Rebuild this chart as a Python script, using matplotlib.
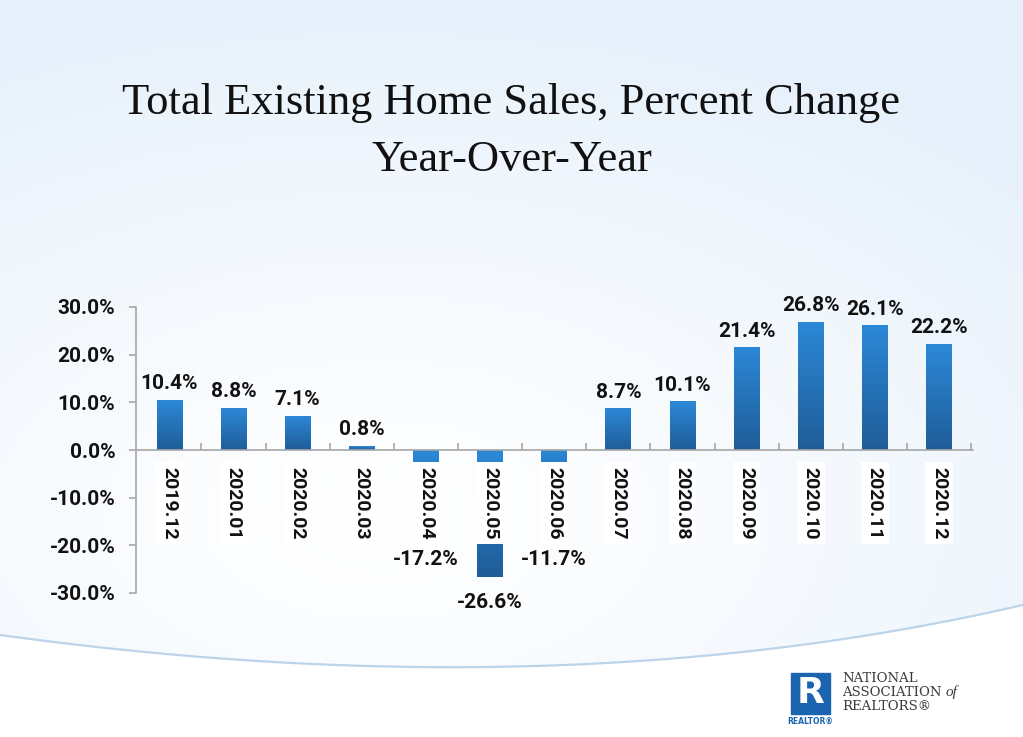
import matplotlib.pyplot as plt
import numpy as np
from matplotlib.colors import LinearSegmentedColormap
from matplotlib.patches import Rectangle

months = ['2019.12', '2020.01', '2020.02', '2020.03', '2020.04', '2020.05', '2020.06',
          '2020.07', '2020.08', '2020.09', '2020.10', '2020.11', '2020.12']
pct_change = [10.4, 8.8, 7.1, 0.8, -17.2, -26.6, -11.7, 8.7, 10.1, 21.4, 26.8, 26.1, 22.2]
y_ticks = [-30, -20, -10, 0, 10, 20, 30]

W, H = 1023, 737
fig = plt.figure(figsize=(W / 100, H / 100), dpi=100)
label_font = 'Roboto'

# slide background: pale blue above a swoosh, white below it
bg = fig.add_axes([0, 0, 1, 1], zorder=-10)
bg.set_xlim(0, W)
bg.set_ylim(H, 0)
bg.axis('off')
xx, yy = np.meshgrid(np.linspace(0, W, 300), np.linspace(0, H, 220))
d = np.sqrt(((xx - 380) / 900) ** 2 + ((yy - 520) / 520) ** 2)
f = np.clip(d, 0, 1) ** 1.2
white = np.array([1.0, 1.0, 1.0])
pale = np.array([0.905, 0.945, 0.985])
bg.imshow(white + (pale - white) * f[..., None], extent=[0, W, H, 0], aspect='auto')
t = np.linspace(0, 1, 200)
p0, p1, p2 = np.array([0, 635]), np.array([560, 712]), np.array([W, 605])
curve = (1 - t)[:, None] ** 2 * p0 + 2 * (t * (1 - t))[:, None] * p1 + t[:, None] ** 2 * p2
bg.fill_between(curve[:, 0], curve[:, 1], H, color='white', lw=0)
bg.plot(curve[:, 0], curve[:, 1], color='#bcd4ea', lw=1.6)

# title
fig.text(0.5, 1 - 103 / H, 'Total Existing Home Sales, Percent Change', ha='center', va='center',
         fontsize=32, family='Liberation Serif', color='#111111')
fig.text(0.5, 1 - 160 / H, 'Year-Over-Year', ha='center', va='center',
         fontsize=32, family='Liberation Serif', color='#111111')

# chart
ax = fig.add_axes([136 / W, 1 - 593 / H, 837 / W, 286 / H])
ax.patch.set_alpha(0)
x = np.arange(len(months))
bars = ax.bar(x, pct_change, width=0.4, color='none', edgecolor='none', zorder=1)

cmap = LinearSegmentedColormap.from_list('bar', ['#2c88d6', '#1f5d99'])
grad = np.linspace(0, 1, 100).reshape(-1, 1)
for b in bars:
    x0, w = b.get_x(), b.get_width()
    y0, y1 = sorted([b.get_y(), b.get_y() + b.get_height()])
    ax.imshow(grad, extent=[x0, x0 + w, y0, y1], origin='upper', cmap=cmap,
              aspect='auto', zorder=1)

ax.set_xlim(-0.52, 12.53)
ax.set_ylim(-30, 30)

for s in ['top', 'right']:
    ax.spines[s].set_visible(False)
ax.spines['bottom'].set_position(('data', 0))
for s in ['left', 'bottom']:
    ax.spines[s].set_color('#a6a6a6')
    ax.spines[s].set_linewidth(1.2)

ax.set_xticks(x, [])
ax.set_xticks(np.arange(0.5, 12.6, 1), minor=True)
ax.tick_params(axis='x', which='major', length=0)
ax.tick_params(axis='x', which='minor', direction='in', length=5, color='#a6a6a6', width=1.2)

# month labels in white boxes hanging under the zero line
for xi, m in zip(x, months):
    ax.annotate(m, (xi, 0), xytext=(0, -12), textcoords='offset points', rotation=-90,
                ha='center', va='top', fontsize=14, fontweight='bold', family=label_font,
                color='#111111', zorder=3,
                bbox=dict(facecolor='white', edgecolor='none', boxstyle='square,pad=0.25'))

ax.set_yticks(y_ticks, [f'{v:.1f}%' for v in y_ticks])
ax.tick_params(axis='y', direction='out', length=5, color='#a6a6a6', width=1.2, pad=10)
for lbl in ax.get_yticklabels():
    lbl.set_fontsize(15)
    lbl.set_fontweight('bold')
    lbl.set_family(label_font)
    lbl.set_color('#111111')

# value labels; negative ones sit below the month boxes
label_floor = -17.5
for xi, v in zip(x, pct_change):
    if v >= 0:
        ax.annotate(f'{v:.1f}%', (xi, v), xytext=(0, 5), textcoords='offset points',
                    ha='center', va='bottom', fontsize=15, fontweight='bold',
                    family=label_font, color='#111111')
    else:
        ax.annotate(f'{v:.1f}%', (xi, min(v, label_floor)), xytext=(0, -12),
                    textcoords='offset points', ha='center', va='top',
                    fontsize=15, fontweight='bold', family=label_font, color='#111111')

# NAR logo
bg.add_patch(Rectangle((791, 673), 39, 41, color='#1a64b0'))
bg.text(810.5, 693, 'R', color='white', fontsize=26, fontweight='bold', ha='center',
        va='center', family='DejaVu Sans')
bg.text(810.5, 721, 'REALTOR®', color='#1a64b0', fontsize=5.5, fontweight='bold',
        ha='center', va='center')
for txt, yv in [('NATIONAL', 679), ('ASSOCIATION', 692.5), ('REALTORS®', 706)]:
    bg.text(842, yv, txt, fontsize=9.5, family='DejaVu Serif', color='#3a3a3a',
            ha='left', va='center')
bg.text(946, 692, 'of', fontsize=11, family='Liberation Serif', style='italic',
        color='#3a3a3a', ha='left', va='center')

fig.savefig('out.png', dpi=100)
